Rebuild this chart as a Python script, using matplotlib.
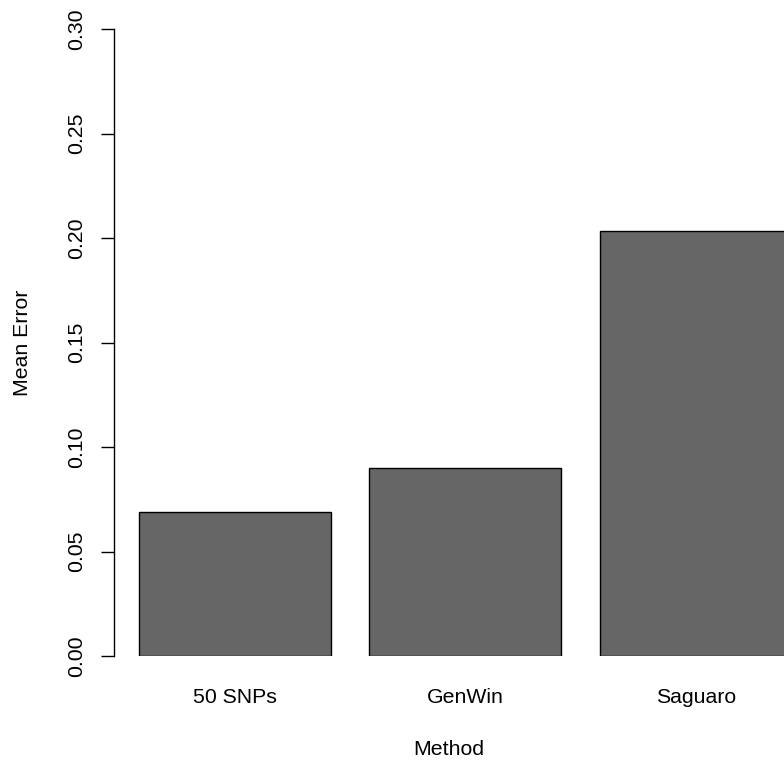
import matplotlib.pyplot as plt

# data
methods = ["50 SNPs", "GenWin", "Saguaro"]
mean_error = [0.0689, 0.0898, 0.2033]
yticks = [0.00, 0.05, 0.10, 0.15, 0.20, 0.25, 0.30]

plt.rcParams['font.family'] = ['Liberation Sans', 'DejaVu Sans']

fig = plt.figure(figsize=(7.84, 7.62), dpi=100)
ax = fig.add_axes([114 / 784, 106 / 762, 1 - 114 / 784, (656 - 29) / 762])

# R style barplot: width 1, space 0.2
lefts = [0.2 + i * 1.2 for i in range(len(methods))]
centers = [l + 0.5 for l in lefts]
ax.bar(centers, mean_error, width=1.0, color="#666666", edgecolor="black", linewidth=1.0)

ax.set_xlim(0.07, 3.56)
ax.set_ylim(0, 0.30)

for s in ["top", "right", "bottom"]:
    ax.spines[s].set_visible(False)
ax.spines["left"].set_linewidth(1.0)

ax.set_yticks(yticks)
ax.set_yticklabels(["%.2f" % v for v in yticks], rotation=90, va="center", fontsize=15.3)
ax.tick_params(axis="y", length=9.4, width=1.0, pad=10.8)

ax.set_xticks(centers)
ax.set_xticklabels(methods, fontsize=15.3)
ax.tick_params(axis="x", length=0, pad=23)

ax.set_xlabel("Method", fontsize=15.3, labelpad=24)
ax.set_ylabel("Mean Error", fontsize=15.3, labelpad=25)

fig.savefig("out.png", dpi=100)
